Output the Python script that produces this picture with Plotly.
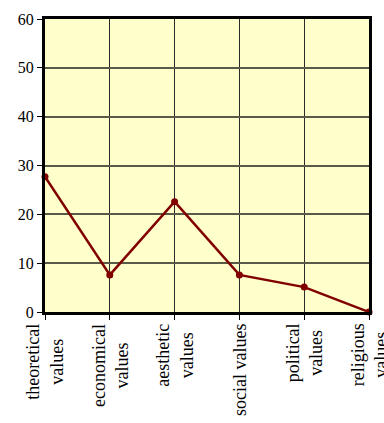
import plotly.graph_objects as go

# Value categories and scores
categories = ["theoretical", "economical", "aesthetic", "social", "political", "religious"]
labels = ["theoretical<br>values", "economical<br>values", "aesthetic<br>values",
          "social values", "political<br>values", "religious<br>values"]
scores = [27.7, 7.6, 22.6, 7.6, 5.1, 0.0]
y_ticks = [0, 10, 20, 30, 40, 50, 60]

FONT = "Liberation Serif, Times New Roman, serif"

fig = go.Figure()
fig.add_trace(go.Scatter(
    x=categories, y=scores, mode="lines+markers",
    line=dict(color="#800000", width=2.5),
    marker=dict(color="#800000", size=7),
    cliponaxis=False, showlegend=False,
))

for cat, lab in zip(categories, labels):
    fig.add_annotation(
        x=cat, xref="x", y=-0.033, yref="paper",
        text=lab, textangle=-90, showarrow=False,
        xanchor="center", yanchor="top", align="center",
        font=dict(family=FONT, size=18, color="#000000"),
    )

fig.update_layout(
    width=384, height=423,
    margin=dict(l=45, r=15, t=19, b=111),
    paper_bgcolor="#ffffff", plot_bgcolor="#ffffcc",
    font=dict(family=FONT, size=16, color="#000000"),
    xaxis=dict(
        type="category", categoryorder="array", categoryarray=categories,
        range=[0, 5], showticklabels=False,
        showgrid=True, gridcolor="#2a2a2a", gridwidth=1,
        showline=True, linecolor="#000000", linewidth=3, mirror=True,
        ticks="outside", ticklen=5, tickcolor="#000000", tickwidth=1,
        zeroline=False, fixedrange=True,
    ),
    yaxis=dict(
        range=[0, 60], tickvals=y_ticks,
        showgrid=True, gridcolor="#5a5a48", gridwidth=1.6,
        showline=True, linecolor="#000000", linewidth=3, mirror=True,
        ticks="outside", ticklen=5, tickcolor="#000000", tickwidth=1,
        zeroline=False, fixedrange=True,
        tickfont=dict(family=FONT, size=16),
    ),
)

fig.write_html("out.html")
